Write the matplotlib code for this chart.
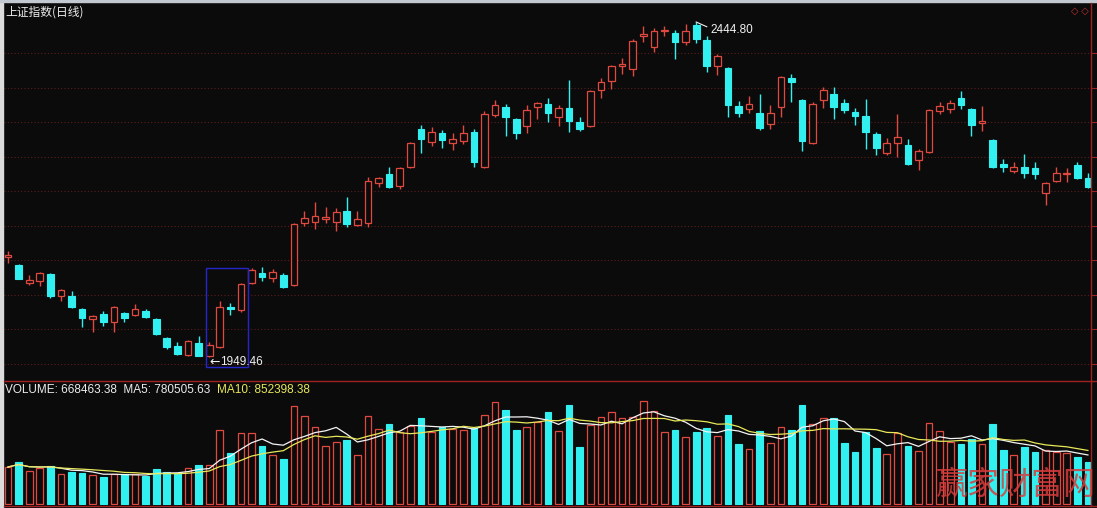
import numpy as np
import pandas as pd
import matplotlib
matplotlib.use("Agg")
import matplotlib.pyplot as plt
import matplotlib.patheffects as pe
from matplotlib.lines import Line2D
from matplotlib.patches import Rectangle

# daily OHLC of the Shanghai Composite
opens = [2097.3, 2085.5, 2058.9, 2061.8, 2072.1, 2039.6, 2039.6, 2020.4, 2005.6, 2013.0,
         2001.2, 2014.5, 2011.5, 2017.4, 2005.6, 1977.6, 1965.7, 1952.4, 1970.1, 1951.5,
         1964.2, 2023.4, 2018.9, 2058.9, 2073.6, 2066.2, 2070.7, 2055.9, 2147.6, 2149.1,
         2153.5, 2149.1, 2165.3, 2144.6, 2147.6, 2206.7, 2220.0, 2202.3, 2230.4, 2286.6,
         2267.3, 2280.6, 2265.9, 2268.8, 2282.1, 2230.4, 2307.3, 2319.1, 2301.4, 2291.0,
         2319.1, 2323.5, 2304.3, 2317.6, 2296.9, 2291.0, 2344.2, 2357.5, 2379.7, 2375.3,
         2424.1, 2407.8, 2431.5, 2428.5, 2415.2, 2440.3, 2418.2, 2379.7, 2376.8, 2320.6,
         2316.1, 2310.2, 2294.0, 2319.1, 2362.0, 2329.4, 2265.9, 2329.4, 2338.3, 2325.0,
         2311.7, 2305.8, 2279.2, 2251.1, 2265.9, 2262.9, 2240.7, 2252.6, 2313.2, 2316.1,
         2332.4, 2316.1, 2295.4, 2270.3, 2234.8, 2224.5, 2230.4, 2228.9, 2191.9, 2209.7,
         2220.0, 2233.3, 2214.1]
highs = [2106.2, 2087.0, 2070.7, 2075.1, 2073.6, 2050.0, 2047.0, 2021.9, 2011.5, 2017.4,
         2024.9, 2015.9, 2027.8, 2020.4, 2007.1, 1979.0, 1971.6, 1974.6, 1980.5, 1971.6,
         2032.3, 2029.3, 2058.9, 2081.0, 2082.5, 2079.6, 2073.6, 2147.6, 2165.3, 2178.6,
         2171.2, 2169.8, 2186.0, 2165.3, 2215.6, 2215.6, 2230.4, 2230.4, 2267.3, 2292.5,
         2289.5, 2285.1, 2280.6, 2292.5, 2286.6, 2313.2, 2329.4, 2323.5, 2302.8, 2322.0,
         2326.5, 2332.4, 2322.0, 2359.0, 2304.3, 2344.2, 2362.0, 2381.2, 2391.5, 2419.6,
         2438.9, 2435.9, 2438.9, 2432.9, 2441.8, 2444.8, 2424.1, 2397.5, 2378.2, 2328.0,
         2335.4, 2338.3, 2322.0, 2364.9, 2367.9, 2330.9, 2326.5, 2348.7, 2348.7, 2330.9,
         2317.6, 2330.9, 2282.1, 2273.3, 2308.7, 2271.8, 2257.0, 2316.1, 2326.5, 2329.4,
         2342.8, 2317.6, 2320.6, 2271.8, 2242.2, 2237.8, 2249.6, 2237.8, 2208.2, 2230.4,
         2228.9, 2237.8, 2221.5]
lows = [2088.4, 2064.5, 2055.9, 2054.4, 2036.7, 2032.3, 2021.9, 1993.8, 1986.4, 1995.3,
        1986.4, 2001.2, 2010.1, 2007.1, 1982.0, 1961.3, 1952.4, 1950.9, 1950.2, 1949.46,
        1962.8, 2011.5, 2015.9, 2057.4, 2061.8, 2060.3, 2051.5, 2054.4, 2143.2, 2138.7,
        2147.6, 2135.7, 2141.7, 2143.2, 2141.7, 2200.8, 2199.3, 2197.8, 2228.9, 2251.1,
        2261.4, 2258.5, 2255.5, 2264.4, 2230.4, 2228.9, 2304.3, 2276.2, 2271.8, 2280.6,
        2301.4, 2296.9, 2291.0, 2282.1, 2283.6, 2289.5, 2332.4, 2345.7, 2367.9, 2364.9,
        2415.2, 2400.4, 2424.1, 2390.1, 2410.8, 2413.7, 2370.8, 2366.4, 2304.3, 2304.3,
        2310.2, 2285.1, 2286.6, 2304.3, 2326.5, 2254.1, 2264.4, 2317.6, 2301.4, 2310.2,
        2292.5, 2257.0, 2248.1, 2248.1, 2245.2, 2233.3, 2225.9, 2251.1, 2308.7, 2310.2,
        2316.1, 2276.2, 2283.6, 2228.9, 2223.0, 2221.5, 2214.1, 2212.6, 2174.2, 2208.2,
        2208.2, 2212.6, 2199.3]
closes = [2100.3, 2064.8, 2063.3, 2073.6, 2039.6, 2048.5, 2023.4, 2007.1, 2010.1, 2001.2,
          2023.4, 2007.1, 2020.4, 2008.6, 1983.5, 1964.2, 1953.9, 1973.1, 1950.9, 1967.2,
          2023.4, 2020.4, 2057.4, 2078.1, 2067.7, 2075.1, 2053.0, 2146.1, 2155.0, 2157.9,
          2156.4, 2163.8, 2146.1, 2153.5, 2209.7, 2214.1, 2200.8, 2228.9, 2265.9, 2271.8,
          2282.1, 2270.3, 2271.8, 2280.6, 2237.8, 2308.7, 2322.0, 2304.3, 2280.6, 2314.7,
          2325.0, 2310.2, 2317.6, 2298.4, 2286.6, 2342.8, 2356.1, 2379.7, 2382.7, 2416.7,
          2427.0, 2431.5, 2432.9, 2415.2, 2431.5, 2419.6, 2379.7, 2394.5, 2322.0, 2310.2,
          2323.5, 2288.0, 2310.2, 2363.5, 2356.1, 2268.8, 2323.5, 2344.2, 2319.1, 2314.7,
          2305.8, 2282.1, 2258.5, 2265.9, 2274.7, 2234.8, 2254.1, 2314.7, 2320.6, 2325.0,
          2322.0, 2292.5, 2298.4, 2230.4, 2230.4, 2230.4, 2221.5, 2220.0, 2206.7, 2221.5,
          2221.5, 2214.1, 2200.8]
volume = [589000, 668000, 525000, 573000, 605000, 477000, 509000, 493000, 462000, 430000,
          477000, 477000, 477000, 446000, 557000, 509000, 493000, 573000, 621000, 621000,
          1178000, 812000, 1130000, 1130000, 923000, 780000, 716000, 1560000, 1401000, 1226000,
          923000, 987000, 1019000, 780000, 1401000, 1194000, 1273000, 1146000, 1241000, 1369000,
          1146000, 1226000, 1194000, 1178000, 1210000, 1417000, 1623000, 1496000, 1178000, 1226000,
          1305000, 1464000, 1162000, 1576000, 907000, 1257000, 1385000, 1464000, 1369000, 1385000,
          1639000, 1480000, 1146000, 1178000, 1066000, 1146000, 1210000, 1082000, 1417000, 955000,
          875000, 1162000, 971000, 1226000, 1178000, 1576000, 1273000, 1369000, 1369000, 971000,
          828000, 1146000, 891000, 796000, 1130000, 923000, 844000, 1289000, 1162000, 987000,
          955000, 1035000, 955000, 1268000, 855000, 775000, 902000, 823000, 856000, 824000,
          809000, 745000, 668463.38]

title = "上证指数(日线)"
ma5_last = 780505.63
ma10_last = 852398.38
watermark = "赢家财富网"
grid_levels = [1939.1, 1990.2, 2041.3, 2092.4, 2143.5, 2194.6, 2245.6, 2296.7, 2347.8, 2398.9]

BG = "#0b0b0b"
RED = "#e0493f"
CYAN = "#33f0f0"
FRAME = "#a02222"
CJK = ["Noto Sans CJK SC", "DejaVu Sans"]
NUM = ["Liberation Sans", "DejaVu Sans"]

o = np.array(opens); h = np.array(highs); l = np.array(lows); c = np.array(closes)
v = np.array(volume)
n = len(o)
xs = np.arange(n)
up = c >= o
dn = ~up

W, H = 1097, 508
fig = plt.figure(figsize=(W / 100, H / 100), dpi=100, facecolor=BG)

def fx(px):
    return px / W

def fy(py):
    return 1 - py / H

ax = fig.add_axes([fx(4), fy(380), (1091 - 4) / W, (380 - 3) / H])
axv = fig.add_axes([fx(4), fy(505), (1091 - 4) / W, (505 - 381) / H])
for a in (ax, axv):
    a.set_facecolor(BG)
    for s in a.spines.values():
        s.set_visible(False)
    a.set_xlim(-0.378, 102.29)

ax.set_ylim(1915.4, 2472.9)
axv.set_ylim(-15916, 1957668)

# grid
for lvl in grid_levels:
    ax.axhline(lvl, color="#5c1c1c", lw=0.8, ls=(0, (1, 2)), zorder=0)

# candles
bw = 0.63
ax.vlines(xs[dn], l[dn], h[dn], color=CYAN, lw=1)
ax.bar(xs[dn], o[dn] - c[dn], bottom=c[dn], width=bw, color=CYAN, edgecolor=CYAN, lw=0.8)
ax.vlines(xs[up], c[up], h[up], color=RED, lw=1)
ax.vlines(xs[up], l[up], o[up], color=RED, lw=1)
ax.bar(xs[up], np.maximum(c[up] - o[up], 0.8), bottom=o[up], width=bw,
       facecolor=BG, edgecolor=RED, lw=0.9)

# highlight box
ax.add_patch(Rectangle((18.7, 1934.7), 3.97, 146.3, fill=False, edgecolor="#2626c8", lw=1.0))

# extreme annotations
i_lo = int(np.argmin(l))
i_hi = int(np.argmax(h))
ax.text(i_lo + 0.05, l[i_lo] - 7.5, "\u2190", color="#f0f0f0",
        fontsize=9, family=["DejaVu Sans"], ha="left", va="center")
ax.text(i_lo + 1.05, l[i_lo] - 7.5, f"{l[i_lo]:.2f}", color="#f0f0f0",
        fontsize=8.5, family=NUM, ha="left", va="center")
ax.plot([i_hi, i_hi + 0.35, i_hi + 1.0], [h[i_hi], h[i_hi] - 2.5, h[i_hi] - 7.0],
        color="#f0f0f0", lw=0.8)
ax.text(i_hi + 1.35, h[i_hi] - 11.5, f"{h[i_hi]:.2f}", color="#f0f0f0",
        fontsize=8.5, family=NUM, ha="left", va="center")

ax.set_xticks([])
ax.yaxis.tick_right()
ax.set_yticks(grid_levels)
ax.tick_params(axis="y", direction="out", length=4, width=0.8, color=FRAME, labelright=False)
axv.set_xticks([])
axv.set_yticks([])

# volume
axv.bar(xs[dn], v[dn], width=bw, color=CYAN, edgecolor=CYAN, lw=0.8)
axv.bar(xs[up], v[up], width=bw, facecolor=BG, edgecolor=RED, lw=0.9)
vs = pd.Series(v)
axv.plot(xs, vs.rolling(5, min_periods=1).mean(), color="#f4f4f4", lw=0.9)
axv.plot(xs, vs.rolling(10, min_periods=1).mean(), color="#e8e85a", lw=0.9)

# frame lines
fig.add_artist(Line2D([fx(4), 1], [fy(381), fy(381)], color=FRAME, lw=1.0))
fig.add_artist(Line2D([fx(4), 1], [fy(506), fy(506)], color=FRAME, lw=1.0))
fig.add_artist(Line2D([fx(1091), fx(1091)], [fy(3), fy(506)], color=FRAME, lw=1.0))
fig.add_artist(Rectangle((0, 0), fx(3), 1, transform=fig.transFigure, color="#dcdcdc"))
fig.add_artist(Rectangle((0, fy(2)), 1, 2 / H, transform=fig.transFigure, color="#c4c8d0"))

# texts
fig.text(fx(5), fy(12), title, color="#ececec", fontsize=8.5, family=CJK, va="center")
fig.text(fx(1080), fy(11), "\u25c7 \u25c7", color="#c83232", fontsize=7, family=NUM,
         ha="center", va="center")
fig.text(fx(5), fy(390), f"VOLUME: {v[-1]:.2f}  MA5: {ma5_last:.2f}", color="#ececec",
         fontsize=8.5, family=NUM, va="center")
fig.text(fx(217), fy(390), f"MA10: {ma10_last:.2f}", color="#e8e85a",
         fontsize=8.5, family=NUM, va="center")
fig.text(fx(1016), fy(485), watermark, color=BG, alpha=0.0, fontsize=23, family=CJK,
         ha="center", va="center")
fig.text(fx(1016), fy(485), watermark, color="#d83c3c", fontsize=23, family=CJK,
         fontweight="light", ha="center", va="center", alpha=0.85)

fig.savefig("out.png", dpi=100, facecolor=BG)
